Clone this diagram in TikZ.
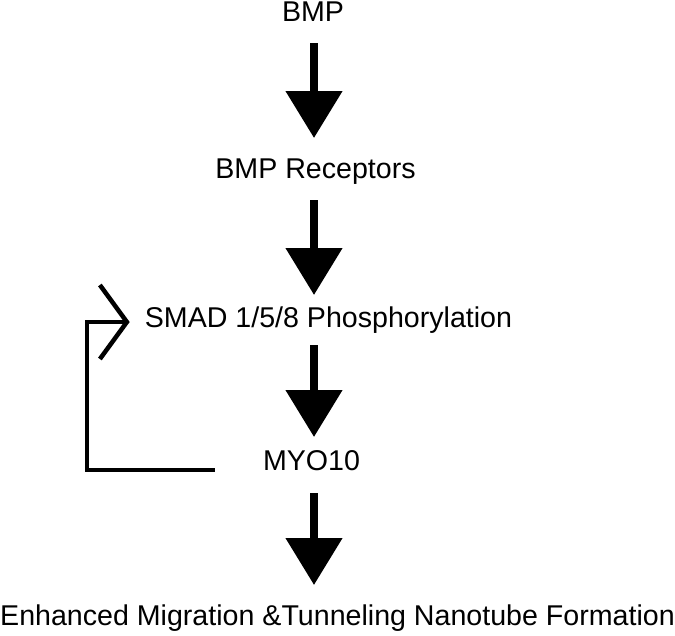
\documentclass[tikz,border=0pt]{standalone}
\usepackage{fontspec}
\setmainfont{Liberation Sans}
\usetikzlibrary{arrows.meta}
\begin{document}
\begin{tikzpicture}[x=1pt,y=-1pt,
  lbl/.style={inner sep=0pt,anchor=base,font=\fontsize{28.6}{32}\selectfont},
  bigarrow/.style={line width=8pt,-{Triangle[width=55pt,length=47pt]}},
  fb/.style={line width=4pt,line join=miter,-{Straight Barb[length=27pt,width=74pt,line width=4.5pt]}}]
\useasboundingbox (0,0) rectangle (675,635);
\coordinate (spine) at (314,0);
\node[lbl] (bmp) at (313,21.5) {BMP};
\node[lbl] (rec) at (315.5,178) {BMP Receptors};
\node[lbl] (smad) at (328.5,327) {SMAD 1/5/8 Phosphorylation};
\node[lbl] (myo) at (311.5,470) {MYO10};
\node[lbl] (out) at (337.5,625) {Enhanced Migration \&Tunneling Nanotube Formation};
\draw[bigarrow] ([yshift=-21.5pt]bmp.base -| spine) -- ([yshift=40pt]rec.base -| spine);
\draw[bigarrow] ([yshift=-22pt]rec.base -| spine) -- ([yshift=32pt]smad.base -| spine);
\draw[bigarrow] ([yshift=-18pt]smad.base -| spine) -- ([yshift=33pt]myo.base -| spine);
\draw[bigarrow] ([yshift=-23pt]myo.base -| spine) -- ([yshift=40pt]out.base -| spine);
\draw[fb] ([xshift=-48pt]myo.base west) -- ++(-128,0) |- ([xshift=-15pt,yshift=5pt]smad.base west);
\end{tikzpicture}
\end{document}
